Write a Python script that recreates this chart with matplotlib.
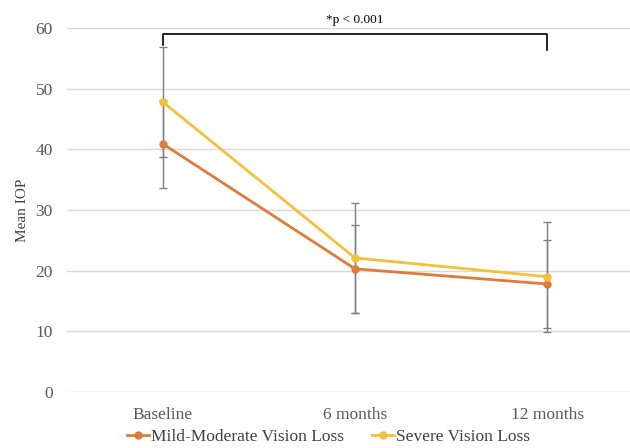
import matplotlib.pyplot as plt

# data
timepoints = ["Baseline", "6 months", "12 months"]
mild_mean = [40.9, 20.3, 17.8]
mild_sd = [7.3, 7.3, 7.3]
severe_mean = [47.8, 22.1, 19.0]
severe_sd = [9.1, 9.1, 9.1]
p_label = "*p < 0.001"

plt.rcParams["font.family"] = ["Liberation Serif", "DejaVu Serif"]

fig = plt.figure(figsize=(6.3, 4.48), dpi=100)
ax = fig.add_axes([0.106, 0.125, 0.915, 0.8125])

x = list(range(len(timepoints)))

# error bars first so the lines sit on top
ax.errorbar(x, mild_mean, yerr=mild_sd, fmt="none", ecolor="#7f7f7f",
            elinewidth=1, capsize=3, capthick=1, zorder=2)
ax.errorbar(x, severe_mean, yerr=severe_sd, fmt="none", ecolor="#7f7f7f",
            elinewidth=1, capsize=3, capthick=1, zorder=2)

ax.plot(x, mild_mean, color="#E07B39", linewidth=2, marker="o",
        markersize=5, label="Mild-Moderate Vision Loss", zorder=3)
ax.plot(x, severe_mean, color="#F4C13D", linewidth=2, marker="o",
        markersize=5, label="Severe Vision Loss", zorder=3)

ax.set_xlim(-0.5, 2.5)
ax.set_ylim(0, 60)
ax.set_yticks(range(0, 61, 10))
ax.set_xticks(x)
ax.set_xticklabels(timepoints)
ax.tick_params(axis="both", length=0, labelsize=12.5, labelcolor="#595959")
ax.tick_params(axis="y", pad=10)
ax.tick_params(axis="x", pad=11)
ax.set_ylabel("Mean IOP", fontsize=11, color="#404040", labelpad=5)

ax.grid(axis="y", color="#d9d9d9", linewidth=1)
ax.set_axisbelow(True)
for s in ax.spines.values():
    s.set_visible(False)

# significance bracket
ax.plot([0, 0, 2, 2], [57.2, 59.0, 59.0, 56.3], color="black",
        linewidth=1.2, clip_on=False, zorder=4)
ax.text(1, 61.3, p_label, ha="center", va="center", fontsize=9.5,
        color="black", clip_on=False)

fig.legend(loc="center", bbox_to_anchor=(0.521, 0.024), ncol=2,
           frameon=False, fontsize=12.5, handlelength=1.3, columnspacing=1.6,
           handletextpad=0.1, labelcolor="#404040")

fig.savefig("out.png", dpi=100)
